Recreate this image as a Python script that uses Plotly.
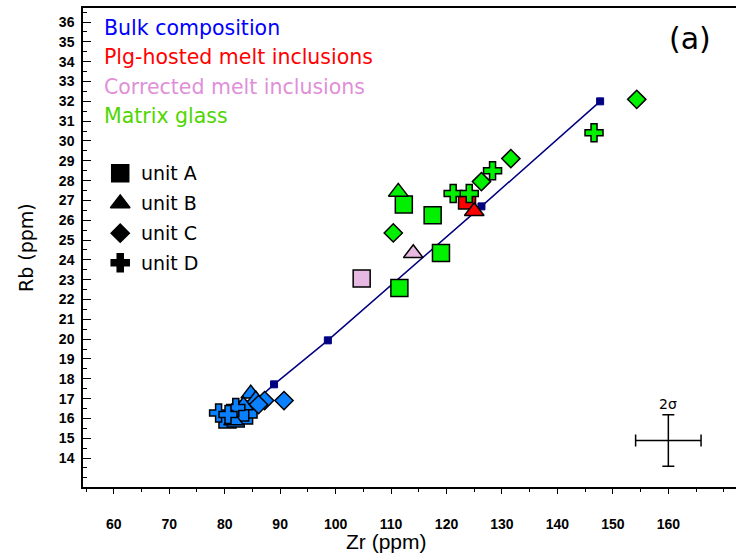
import plotly.graph_objects as go

# Rb vs Zr (ppm) by sample type and eruptive unit

# Bulk-rock compositions
bulk_A_zr = [80.5, 82.0, 83.5, 84.3, 82.8]
bulk_A_rb = [15.95, 16.0, 16.15, 16.45, 16.3]
bulk_B_zr = [84.7, 85.6, 83.4, 81.6]
bulk_B_rb = [17.25, 16.95, 16.65, 15.9]
bulk_C_zr = [90.7, 87.2, 86.1]
bulk_C_rb = [16.9, 16.9, 16.7]
bulk_D_zr = [78.9, 82.0, 80.6]
bulk_D_rb = [16.27, 16.55, 16.2]

# Plagioclase-hosted melt inclusions
plg_A_zr = [123.7]
plg_A_rb = [27.0]
plg_B_zr = [125.0]
plg_B_rb = [26.45]

# Corrected melt inclusions
corr_A_zr = [104.7]
corr_A_rb = [23.06]
corr_B_zr = [114.0]
corr_B_rb = [24.33]

# Matrix glass
glass_A_zr = [112.3, 117.5, 119.0, 111.5]
glass_A_rb = [26.8, 26.25, 24.35, 22.58]
glass_B_zr = [111.3]
glass_B_rb = [27.43]
glass_C_zr = [110.4, 126.3, 131.6, 154.3]
glass_C_rb = [25.36, 27.95, 29.11, 32.1]
glass_D_zr = [121.2, 124.1, 128.3, 146.6]
glass_D_rb = [27.35, 27.35, 28.5, 30.41]

# Model trend through the bulk compositions
trend_zr = [82.5, 88.9, 98.6, 126.3, 147.7]
trend_rb = [16.1, 17.72, 19.94, 26.7, 32.0]
trend_marks = [False, True, True, True, True]

# Analytical uncertainty (2 sigma)
err_zr, err_rb = [160.0], [14.89]
err_dzr, err_drb = [5.9], [1.3]

group_labels = ["Bulk composition", "Plg-hosted melt inclusions",
                "Corrected melt inclusions", "Matrix glass"]
group_text_colors = ["#0000ff", "#ff0000", "#e08fd8", "#4fd600"]
unit_labels = ["unit A", "unit B", "unit C", "unit D"]

BLUE = "#0a80ff"
RED = "#ff0000"
PINK = "#e6b8e2"
GREEN = "#00f000"
NAVY = "#000080"

SYMBOLS = {"A": "square", "B": "triangle-up", "C": "diamond", "D": "cross"}
SIZES = {"A": 17, "B": 17, "C": 14, "D": 15}

fig = go.Figure()

fig.add_trace(go.Scatter(
    x=trend_zr, y=trend_rb, mode="lines+markers",
    line=dict(color=NAVY, width=1.5),
    marker=dict(symbol="square", size=[7 if m else 0 for m in trend_marks],
                color=NAVY, opacity=1, line=dict(color=NAVY, width=1)),
    hoverinfo="skip", showlegend=False))


def add_points(zr, rb, unit, color):
    fig.add_trace(go.Scatter(
        x=zr, y=rb, mode="markers", showlegend=False,
        marker=dict(symbol=SYMBOLS[unit], size=SIZES[unit], color=color,
                    opacity=1, line=dict(color="black", width=1.5))))


add_points(bulk_A_zr, bulk_A_rb, "A", BLUE)
add_points(bulk_B_zr, bulk_B_rb, "B", BLUE)
add_points(bulk_C_zr, bulk_C_rb, "C", BLUE)
add_points(bulk_D_zr, bulk_D_rb, "D", BLUE)
add_points(plg_A_zr, plg_A_rb, "A", RED)
add_points(glass_A_zr, glass_A_rb, "A", GREEN)
add_points(glass_B_zr, glass_B_rb, "B", GREEN)
add_points(glass_C_zr, glass_C_rb, "C", GREEN)
add_points(glass_D_zr, glass_D_rb, "D", GREEN)
add_points(plg_B_zr, plg_B_rb, "B", RED)
add_points(corr_A_zr, corr_A_rb, "A", PINK)
add_points(corr_B_zr, corr_B_rb, "B", PINK)

# 2-sigma error cross
fig.add_trace(go.Scatter(
    x=err_zr, y=err_rb, mode="markers", showlegend=False,
    marker=dict(size=0.1, color="black"),
    error_x=dict(type="data", array=err_dzr, color="black", thickness=1.5, width=6),
    error_y=dict(type="data", array=err_drb, color="black", thickness=1.5, width=6)))

# Unit key symbols on an overlay axis spanning the frame
key_y = [0.655, 0.592, 0.53, 0.468]
fig.add_trace(go.Scatter(
    x=[0.057] * 4, y=key_y, xaxis="x2", yaxis="y2", mode="markers",
    showlegend=False, hoverinfo="skip",
    marker=dict(symbol=[SYMBOLS[u[-1]] for u in unit_labels],
                size=[17, 17, 14, 15], color="#000000", opacity=1,
                line=dict(color="#000000", width=1.5))))

annotations = []
for i, (lab, col) in enumerate(zip(group_labels, group_text_colors)):
    annotations.append(dict(
        xref="paper", yref="paper", x=0.029, y=0.958 - i * 0.061,
        text=lab, showarrow=False, xanchor="left", yanchor="middle",
        font=dict(family="DejaVu Sans", size=20.5, color=col)))
for lab, yy in zip(unit_labels, key_y):
    annotations.append(dict(
        xref="paper", yref="paper", x=0.085, y=yy, text=lab, showarrow=False,
        xanchor="left", yanchor="middle",
        font=dict(family="DejaVu Sans", size=19, color="black")))
annotations += [
    dict(xref="paper", yref="paper", x=0.93, y=0.937, text="(a)", showarrow=False,
         xanchor="center", yanchor="middle",
         font=dict(family="DejaVu Sans", size=30, color="black")),
    dict(x=err_zr[0], y=err_rb[0] + err_drb[0], text="2σ", showarrow=False,
         yanchor="bottom", yshift=1,
         font=dict(family="DejaVu Sans", size=14, color="black")),
    dict(xref="paper", yref="paper", x=0.465, y=-0.114, text="Zr (ppm)",
         showarrow=False, xanchor="center", yanchor="middle",
         font=dict(family="Liberation Sans", size=21, color="black")),
    dict(xref="paper", yref="paper", x=-0.088, y=0.5, text="Rb (ppm)",
         showarrow=False, textangle=-90, xanchor="center", yanchor="middle",
         font=dict(family="DejaVu Sans", size=19, color="black")),
]

tickfont = dict(family="Liberation Sans", size=14, color="black", weight="bold")

fig.update_layout(
    width=736, height=556,
    margin=dict(l=83, r=0, t=8, b=69),
    paper_bgcolor="white", plot_bgcolor="white",
    showlegend=False,
    annotations=annotations,
    xaxis=dict(range=[54.45, 172.2], tickmode="array",
               tickvals=list(range(60, 161, 10)), showgrid=False, zeroline=False,
               showline=True, linecolor="black", linewidth=1.5, mirror=True,
               ticks="outside", ticklen=5, tickwidth=1.3, tickcolor="black",
               minor=dict(dtick=5, tick0=0, ticks="outside", ticklen=3,
                          tickwidth=1.3, tickcolor="black"),
               tickfont=tickfont, ticklabelstandoff=18),
    yaxis=dict(range=[12.54, 36.71], tickmode="array",
               tickvals=list(range(14, 37)), showgrid=False, zeroline=False,
               showline=True, linecolor="black", linewidth=1.5,
               ticks="inside", ticklen=8, tickwidth=1.3, tickcolor="black",
               minor=dict(dtick=0.5, tick0=0, ticks="inside", ticklen=4,
                          tickwidth=1.3, tickcolor="black"),
               tickfont=tickfont, ticklabelstandoff=4),
    xaxis2=dict(overlaying="x", range=[0, 1], visible=False, fixedrange=True),
    yaxis2=dict(overlaying="y", range=[0, 1], visible=False, fixedrange=True),
)

fig.write_html("out.html")
